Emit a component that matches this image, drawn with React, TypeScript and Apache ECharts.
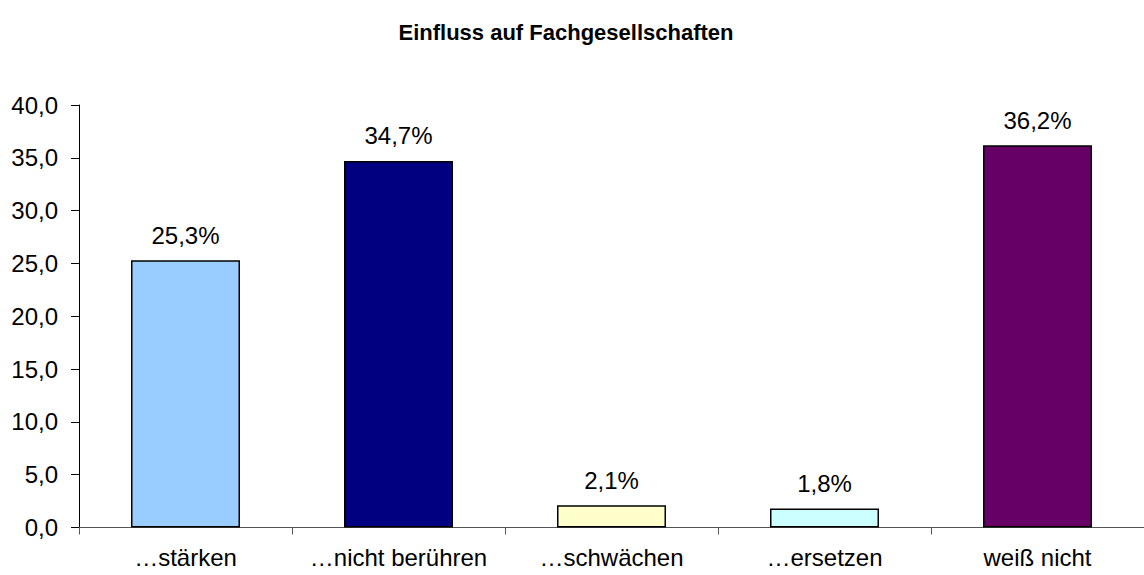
import React, { useEffect, useRef } from "react";
import * as echarts from "echarts";

const categories = ["…stärken", "…nicht berühren", "…schwächen", "…ersetzen", "weiß nicht"];
const values = [25.3, 34.7, 2.1, 1.8, 36.2];
const colors = ["#99CCFF", "#000080", "#FFFFCC", "#CCFFFF", "#660066"];
const titleText = "Einfluss auf Fachgesellschaften";

const FONT = 'Arial, "Liberation Sans", sans-serif';

export default function App() {
  const ref = useRef<HTMLDivElement>(null);
  useEffect(() => {
    if (!ref.current) return;
    const chart = echarts.init(ref.current, null, { renderer: "svg" });
    chart.setOption({
      animation: false,
      backgroundColor: "#ffffff",
      title: {
        text: titleText,
        left: 561,
        textAlign: "center",
        top: 16,
        textStyle: { fontFamily: FONT, fontSize: 22, fontWeight: "bold", color: "#000" },
      },
      grid: { left: 79, top: 105, width: 1079, height: 422.5, containLabel: false },
      xAxis: {
        type: "category",
        data: categories,
        axisLine: { lineStyle: { color: "#555", width: 1 } },
        axisTick: { show: true, length: 7, lineStyle: { color: "#555" } },
        axisLabel: { fontFamily: FONT, fontSize: 24, color: "#000", margin: 18, interval: 0 },
      },
      yAxis: {
        type: "value",
        min: 0,
        max: 40,
        interval: 5,
        splitLine: { show: false },
        axisLine: { show: true, lineStyle: { color: "#000", width: 1 } },
        axisTick: { show: true, length: 8, lineStyle: { color: "#000" } },
        axisLabel: {
          fontFamily: FONT,
          fontSize: 24,
          color: "#000",
          margin: 21,
          formatter: (v: number) => v.toFixed(1).replace(".", ","),
        },
      },
      series: [
        {
          type: "bar",
          barWidth: 109,
          data: values.map((v, i) => ({
            value: v,
            itemStyle: { color: colors[i], borderColor: "#000", borderWidth: 1.5 },
          })),
          label: {
            show: true,
            position: "top",
            distance: 13,
            fontFamily: FONT,
            fontSize: 24,
            color: "#000",
            formatter: (p: any) => p.value.toFixed(1).replace(".", ",") + "%",
          },
        },
      ],
    });
    return () => chart.dispose();
  }, []);
  return (
    <div
      ref={ref}
      style={{ position: "fixed", left: 0, top: 0, width: 1144, height: 575, background: "#fff" }}
    />
  );
}
